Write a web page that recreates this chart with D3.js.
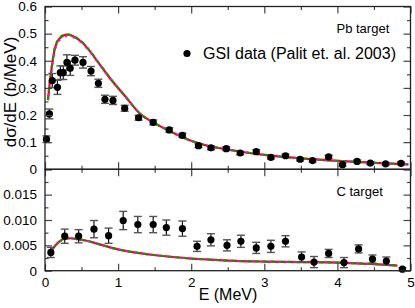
<!DOCTYPE html>
<html>
<head>
<meta charset="utf-8">
<script src="https://cdn.jsdelivr.net/npm/d3@7"></script>
<style>
  body { margin: 0; background: #fff; }
  svg { display: block; font-family: "Liberation Sans", Arial, sans-serif; }
</style>
</head>
<body>
<div id="chart"></div>
<script>
// Pb target data (GSI, Palit et al. 2003)
const pbE = [0.02, 0.06, 0.10, 0.17, 0.21, 0.25, 0.30, 0.345, 0.41, 0.52, 0.63, 0.73, 0.82, 0.93, 1.09, 1.28, 1.48, 1.70, 1.88, 2.10,
  2.27, 2.48, 2.67, 2.89, 3.09, 3.29, 3.49, 3.66, 3.88, 4.07, 4.27, 4.45, 4.66, 4.87];
const pbVal = [0.111, 0.204, 0.327, 0.302, 0.356, 0.356, 0.394, 0.372, 0.402, 0.394, 0.362, 0.317, 0.258, 0.254, 0.225, 0.190, 0.173, 0.145, 0.125, 0.087,
  0.079, 0.076, 0.060, 0.065, 0.044, 0.050, 0.037, 0.032, 0.046, 0.017, 0.029, 0.023, 0.020, 0.022];
const pbErr = [0.012, 0.018, 0.026, 0.026, 0.025, 0.025, 0.028, 0.026, 0.018, 0.021, 0.017, 0.015, 0.015, 0.015, 0.011, 0.009, 0.009, 0.008, 0.008, 0.007,
  0.007, 0.007, 0.006, 0.007, 0.006, 0.006, 0.006, 0.005, 0.006, 0.005, 0.005, 0.005, 0.005, 0.005];

// C target data
const cE = [0.08, 0.27, 0.46, 0.67, 0.87, 1.07, 1.27, 1.48, 1.66, 1.88, 2.08, 2.27, 2.49, 2.68, 2.89, 3.09, 3.29, 3.51, 3.68, 3.88,
  4.09, 4.29, 4.48, 4.67, 4.89];
const cVal = [0.0036, 0.0068, 0.0068, 0.0082, 0.0069, 0.0099, 0.0091, 0.0091, 0.0085, 0.0083, 0.0048, 0.0061, 0.0050, 0.0058, 0.0045, 0.0048, 0.0058, 0.0027, 0.0017, 0.0034,
  0.0016, 0.0043, 0.0023, 0.0019, 0.0003];
const cErr = [0.0010, 0.0014, 0.0013, 0.0017, 0.0015, 0.0018, 0.0016, 0.0016, 0.0015, 0.0015, 0.0010, 0.0012, 0.0011, 0.0012, 0.0011, 0.0012, 0.0011, 0.0010, 0.0011, 0.0008,
  0.0010, 0.0008, 0.0008, 0.0008, 0.0003];

// model curves, Pb
const pbCurveE = [0.04, 0.07, 0.10, 0.13, 0.16, 0.20, 0.25, 0.30, 0.35, 0.41, 0.50, 0.60, 0.75, 0.90, 1.10, 1.30, 1.50, 1.75, 2.00, 2.25,
  2.50, 2.75, 3.00, 3.50, 4.00, 4.50, 4.97];
const pbRed = [0.255, 0.330, 0.390, 0.440, 0.465, 0.482, 0.492, 0.496, 0.494, 0.487, 0.470, 0.440, 0.386, 0.332, 0.268, 0.205, 0.170, 0.135, 0.105, 0.085,
  0.073, 0.062, 0.053, 0.040, 0.031, 0.024, 0.018];
const pbGreen = [0.258, 0.334, 0.393, 0.443, 0.468, 0.485, 0.494, 0.497, 0.495, 0.488, 0.471, 0.441, 0.387, 0.333, 0.268, 0.205, 0.170, 0.135, 0.105, 0.085,
  0.073, 0.062, 0.053, 0.040, 0.031, 0.024, 0.018];
const pbMagenta = [0.248, 0.322, 0.382, 0.432, 0.458, 0.476, 0.486, 0.490, 0.489, 0.483, 0.466, 0.437, 0.384, 0.331, 0.267, 0.205, 0.170, 0.135, 0.105, 0.085,
  0.073, 0.062, 0.053, 0.040, 0.031, 0.024, 0.018];

// model curves, C
const cCurveE = [0.05, 0.10, 0.15, 0.20, 0.27, 0.35, 0.45, 0.57, 0.70, 0.89, 1.10, 1.43, 1.75, 2.00, 2.25, 2.50, 3.00, 3.50, 4.00, 4.50, 4.82];
const cRed = [0.0031, 0.0042, 0.0051, 0.0058, 0.0063, 0.0064, 0.0062, 0.0059, 0.0054, 0.0046, 0.0039, 0.0032, 0.0027, 0.0024, 0.0022, 0.0020, 0.0018, 0.0017, 0.0016, 0.0013, 0.0010];

const W = 415, H = 308;

const svg = d3.select("#chart").append("svg")
  .attr("width", W)
  .attr("height", H);

const x = d3.scaleLinear().domain([0, 5]).range([45, 410.5]);
const yTop = d3.scaleLinear().domain([0, 0.6]).range([169.3, 6.5]);
const yBot = d3.scaleLinear().domain([0, 0.02]).range([270.7, 169.3]);

const tickCol = "#444";

function styleAxis(g, size) {
  g.select(".domain").remove();
  g.selectAll(".tick line").attr("stroke", tickCol).attr("stroke-width", 1.2);
  g.selectAll("text").style("font-size", size || "13.5px").attr("fill", "#000");
}

function drawPanel(y, majors, minors, labelTicks, fmt) {
  const [y0, y1] = y.range();
  // left axis
  svg.append("g").attr("transform", `translate(${x.range()[0]},0)`)
    .call(d3.axisLeft(y).tickValues(minors).tickSize(-3.5).tickFormat(""))
    .call(g => styleAxis(g));
  svg.append("g").attr("transform", `translate(${x.range()[0]},0)`)
    .call(d3.axisLeft(y).tickValues(majors).tickSize(-7).tickPadding(8)
      .tickFormat(d => labelTicks.includes(d) ? fmt(d) : ""))
    .call(g => styleAxis(g));
  // right axis
  svg.append("g").attr("transform", `translate(${x.range()[1]},0)`)
    .call(d3.axisRight(y).tickValues(minors).tickSize(-3.5).tickFormat(""))
    .call(g => styleAxis(g));
  svg.append("g").attr("transform", `translate(${x.range()[1]},0)`)
    .call(d3.axisRight(y).tickValues(majors).tickSize(-7).tickFormat(""))
    .call(g => styleAxis(g));
  // top and bottom ticks
  const xMaj = d3.range(0, 5.01, 1), xMin = d3.range(0.5, 5, 1);
  svg.append("g").attr("transform", `translate(0,${y1})`)
    .call(d3.axisTop(x).tickValues(xMaj).tickSize(-7).tickFormat(""))
    .call(g => styleAxis(g));
  svg.append("g").attr("transform", `translate(0,${y1})`)
    .call(d3.axisTop(x).tickValues(xMin).tickSize(-3.5).tickFormat(""))
    .call(g => styleAxis(g));
  svg.append("g").attr("transform", `translate(0,${y0})`)
    .call(d3.axisBottom(x).tickValues(xMaj).tickSize(-7).tickFormat(""))
    .call(g => styleAxis(g));
  svg.append("g").attr("transform", `translate(0,${y0})`)
    .call(d3.axisBottom(x).tickValues(xMin).tickSize(-3.5).tickFormat(""))
    .call(g => styleAxis(g));
  // frame
  svg.append("rect")
    .attr("x", x.range()[0]).attr("y", y1)
    .attr("width", x.range()[1] - x.range()[0]).attr("height", y0 - y1)
    .attr("fill", "none").attr("stroke", "#222").attr("stroke-width", 1.3);
}

function drawCurves(E, series, y) {
  const line = d3.line().x((d, i) => x(E[i])).y(d => y(d)).curve(d3.curveMonotoneX);
  svg.append("path").datum(series[0]).attr("d", line)
    .attr("fill", "none").attr("stroke", "#ff0000").attr("stroke-width", 2.2);
  svg.append("path").datum(series[1]).attr("d", line)
    .attr("fill", "none").attr("stroke", "#00a000").attr("stroke-width", 2.2)
    .attr("stroke-dasharray", "4,4");
  svg.append("path").datum(series[2]).attr("d", line)
    .attr("fill", "none").attr("stroke", "#ff00ff").attr("stroke-width", 2)
    .attr("stroke-dasharray", "2,6").attr("stroke-dashoffset", 2);
}

function drawPoints(E, V, Er, y) {
  const g = svg.append("g");
  const pts = E.map((e, i) => ({ e: e, v: V[i], err: Er[i] }));
  const cap = 4;
  g.selectAll(".stem").data(pts).enter().append("line")
    .attr("x1", d => x(d.e)).attr("x2", d => x(d.e))
    .attr("y1", d => y(d.v - d.err)).attr("y2", d => y(d.v + d.err))
    .attr("stroke", "#111").attr("stroke-width", 1.2);
  g.selectAll(".capT").data(pts).enter().append("line")
    .attr("x1", d => x(d.e) - cap).attr("x2", d => x(d.e) + cap)
    .attr("y1", d => y(d.v + d.err)).attr("y2", d => y(d.v + d.err))
    .attr("stroke", "#555").attr("stroke-width", 1.4);
  g.selectAll(".capB").data(pts).enter().append("line")
    .attr("x1", d => x(d.e) - cap).attr("x2", d => x(d.e) + cap)
    .attr("y1", d => y(d.v - d.err)).attr("y2", d => y(d.v - d.err))
    .attr("stroke", "#555").attr("stroke-width", 1.4);
  g.selectAll("circle").data(pts).enter().append("circle")
    .attr("cx", d => x(d.e)).attr("cy", d => y(d.v)).attr("r", 3.6)
    .attr("fill", "#000");
}

// curves and data first, axes drawn over
drawCurves(pbCurveE, [pbRed, pbGreen, pbMagenta], yTop);
drawCurves(cCurveE, [cRed, cRed, cRed], yBot);
drawPoints(pbE, pbVal, pbErr, yTop);
drawPoints(cE, cVal, cErr, yBot);

drawPanel(yTop, d3.range(0, 0.61, 0.1).map(d => +d.toFixed(2)), d3.range(0.05, 0.6, 0.1).map(d => +d.toFixed(2)),
  [0, 0.1, 0.2, 0.3, 0.4, 0.5, 0.6], d => d === 0 ? "0" : d3.format(".1f")(d));
drawPanel(yBot, [0, 0.005, 0.01, 0.015, 0.02], [0.0025, 0.0075, 0.0125, 0.0175],
  [0, 0.005, 0.01, 0.015], d => d === 0 ? "0" : d3.format(".3f")(d));

// x tick labels
svg.append("g").attr("transform", `translate(0,${yBot.range()[0]})`)
  .call(d3.axisBottom(x).tickValues([0, 1, 2, 3, 4, 5]).tickSize(0).tickPadding(7).tickFormat(d3.format("d")))
  .call(g => styleAxis(g));

// axis titles
svg.append("text")
  .attr("x", 228).attr("y", 300)
  .attr("text-anchor", "middle")
  .style("font-size", "16px")
  .text("E (MeV)");

svg.append("text")
  .attr("transform", "translate(15.5,92) rotate(-90)")
  .attr("text-anchor", "middle")
  .style("font-size", "17px")
  .text("dσ/dE (b/MeV)");

// labels and legend
svg.append("text").attr("x", 336.5).attr("y", 33).style("font-size", "13px").text("Pb target");
svg.append("text").attr("x", 336.5).attr("y", 196).style("font-size", "13px").text("C target");
svg.append("circle").attr("cx", 187).attr("cy", 53.5).attr("r", 3.6).attr("fill", "#000");
svg.append("text").attr("x", 203).attr("y", 59).style("font-size", "16px").text("GSI data (Palit et. al. 2003)");
</script>
</body>
</html>
